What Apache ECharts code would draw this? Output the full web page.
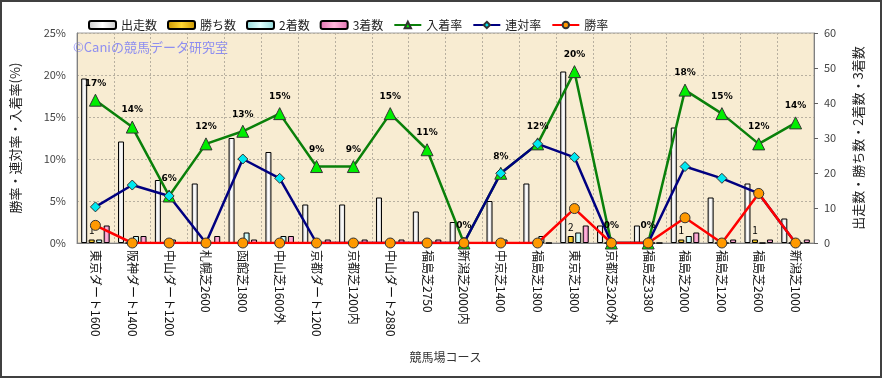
<!DOCTYPE html>
<html>
<head>
    <meta charset="utf-8">
    <style>
        html, body {
            width: 100%;
            height: 100%;
            margin: 0;
            background: #ffffff;
        }

        #chart-panel {
            width: 882px;
            height: 378px;
        }
    </style>
    <script src="https://cdn.jsdelivr.net/npm/echarts@6/dist/echarts.min.js"></script>
</head>
<body>
<div id="chart-panel"></div>
<script type="text/javascript">

  // courses on the x axis
  const categories = ['東京ダート1600', '阪神ダート1400', '中山ダート1200', '札幌芝2600', '函館芝1800',
    '中山芝1600外', '京都ダート1200', '京都芝1200内', '中山ダート2880', '福島芝2750', '新潟芝2000内',
    '中京芝1400', '福島芝1800', '東京芝1800', '京都芝3200外', '福島芝3380', '福島芝2000',
    '福島芝1200', '福島芝2600', '新潟芝1000'];

  // counts (right axis)
  const starts = [47, 29, 18, 17, 30, 26, 11, 11, 13, 9, 6, 12, 17, 49, 5, 5, 33, 13, 17, 7];
  const wins = [1, 0, 0, 0, 0, 0, 0, 0, 0, 0, 0, 0, 0, 2, 0, 0, 1, 0, 1, 0];
  const seconds = [1, 2, 1, 0, 3, 2, 0, 0, 0, 0, 0, 1, 2, 3, 0, 0, 2, 0, 0, 0];
  const thirds = [5, 2, 0, 2, 1, 2, 1, 1, 1, 1, 0, 0, 0, 5, 0, 0, 3, 1, 1, 1];

  // rates in % (left axis)
  const placeRate = [17.0, 13.8, 5.6, 11.8, 13.3, 15.4, 9.1, 9.1, 15.4, 11.1, 0, 8.3, 11.8, 20.4, 0, 0, 18.2, 15.4, 11.8, 14.3];
  const rentaiRate = [4.3, 6.9, 5.6, 0, 10.0, 7.7, 0, 0, 0, 0, 0, 8.3, 11.8, 10.2, 0, 0, 9.1, 7.7, 5.9, 0];
  const winRate = [2.1, 0, 0, 0, 0, 0, 0, 0, 0, 0, 0, 0, 0, 4.1, 0, 0, 3.0, 0, 5.9, 0];

  const FONT = '"Noto Sans CJK JP", "DejaVu Sans", sans-serif';

  function grad(a, b) {
    return new echarts.graphic.LinearGradient(0, 0, 1, 0, [
      {offset: 0, color: a}, {offset: 0.5, color: b}, {offset: 1, color: a}
    ]);
  }

  function barSeries(name, data, fill, extra) {
    let s = {
      name: name,
      type: 'bar',
      yAxisIndex: 1,
      barWidth: 6,
      barGap: '25%',
      data: data,
      itemStyle: {color: fill, borderColor: '#000', borderWidth: 1}
    };
    return Object.assign(s, extra || {});
  }

  function lineSeries(name, data, lineColor, symbol, symbolColor, size, extra) {
    let s = {
      name: name,
      type: 'line',
      yAxisIndex: 0,
      data: data,
      symbol: symbol,
      symbolSize: size,
      lineStyle: {color: lineColor, width: 2.5},
      itemStyle: {color: symbolColor, borderColor: '#333', borderWidth: 1},
      emphasis: {disabled: true}
    };
    return Object.assign(s, extra || {});
  }

  var myChart = echarts.init(document.getElementById('chart-panel'));

  var option = {
    animation: false,
    textStyle: {fontFamily: FONT},
    legend: {
      left: 83,
      top: 14,
      itemWidth: 27,
      itemHeight: 8,
      itemGap: 10,
      textStyle: {fontSize: 12, color: '#222', fontFamily: FONT},
      data: ['出走数', '勝ち数', '2着数', '3着数', '入着率', '連対率', '勝率']
    },
    grid: {
      left: 77,
      right: 68,
      top: 33,
      bottom: 135,
      show: true,
      backgroundColor: '#f8ecd2',
      borderColor: '#a0a0a0',
      borderWidth: 1
    },
    xAxis: {
      type: 'category',
      data: categories,
      name: '競馬場コース',
      nameLocation: 'middle',
      nameGap: 108,
      nameTextStyle: {fontSize: 12, color: '#333'},
      axisLine: {lineStyle: {color: '#808080'}},
      axisTick: {show: false},
      axisLabel: {rotate: -90, interval: 0, margin: 7, fontSize: 12, color: '#111'},
      splitLine: {show: true, lineStyle: {color: '#b8b0a0', type: [2, 2]}}
    },
    yAxis: [{
      type: 'value',
      min: 0,
      max: 25,
      interval: 5,
      name: '勝率・連対率・入着率(%)',
      nameLocation: 'middle',
      nameRotate: 90,
      nameGap: 55,
      nameTextStyle: {fontSize: 13, color: '#222'},
      axisLine: {show: true, lineStyle: {color: '#808080'}},
      axisTick: {show: false},
      axisLabel: {formatter: '{value}%', fontSize: 11, color: '#444', margin: 11},
      splitLine: {show: true, lineStyle: {color: '#b8b0a0', type: [2, 2]}}
    }, {
      type: 'value',
      min: 0,
      max: 60,
      interval: 10,
      name: '出走数・勝ち数・2着数・3着数',
      nameLocation: 'middle',
      nameRotate: 90,
      nameGap: 38,
      nameTextStyle: {fontSize: 13, color: '#222'},
      axisLine: {show: true, lineStyle: {color: '#808080'}},
      axisTick: {show: true, length: 4, lineStyle: {color: '#606060'}},
      axisLabel: {fontSize: 11, color: '#444', margin: 10},
      splitLine: {show: false}
    }],
    series: [
      barSeries('出走数', starts, grad('#c8c8c8', '#ffffff')),
      barSeries('勝ち数', wins, grad('#c89400', '#ffd633'), {
        label: {
          show: true, position: 'top', distance: 4, fontSize: 10, color: '#000',
          formatter: (p) => p.value > 0 ? String(p.value) : ''
        }
      }),
      barSeries('2着数', seconds, grad('#90d8d8', '#e0ffff')),
      barSeries('3着数', thirds, grad('#e070b0', '#ffb8dc')),
      lineSeries('入着率', placeRate, '#0a800a', 'triangle', '#00ee00', 12, {
        label: {
          show: true, position: 'top', distance: 6, fontSize: 9, fontWeight: 'bold',
          color: '#000', fontFamily: '"DejaVu Sans", sans-serif',
          formatter: (p) => Math.round(p.value) + '%'
        }
      }),
      lineSeries('連対率', rentaiRate, '#000080', 'diamond', '#00e8f0', 10),
      lineSeries('勝率', winRate, '#ff0000', 'circle', '#ff9900', 10)
    ],
    graphic: [{
      type: 'text',
      left: 73,
      top: 41,
      style: {text: '©Caniの競馬データ研究室', fill: '#8e8ef0', font: '13px ' + FONT}
    }, {
      type: 'rect',
      shape: {x: 1, y: 1, width: 880, height: 376},
      style: {fill: 'none', stroke: '#404040', lineWidth: 2},
      silent: true
    }]
  };

  myChart.setOption(option);
</script>
</body>
</html>
